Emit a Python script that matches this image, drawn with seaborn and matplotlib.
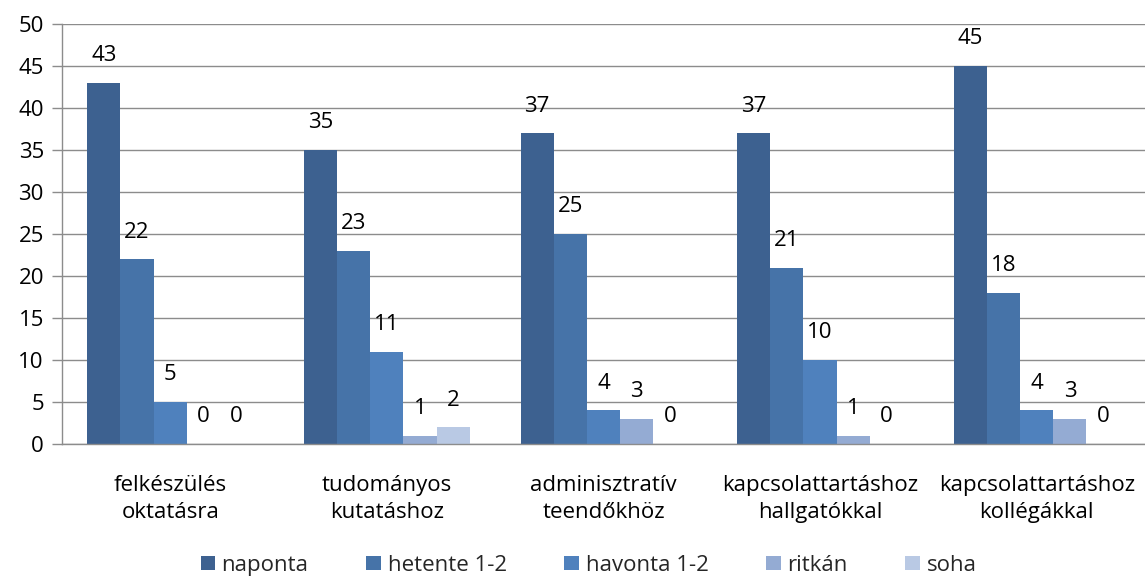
import pandas as pd
import matplotlib.pyplot as plt
import seaborn as sns

categories = ["felkészülés\noktatásra", "tudományos\nkutatáshoz", "adminisztratív\nteendőkhöz",
              "kapcsolattartáshoz\nhallgatókkal", "kapcsolattartáshoz\nkollégákkal"]
series = ["naponta", "hetente 1-2", "havonta 1-2", "ritkán", "soha"]
naponta = [43, 35, 37, 37, 45]
hetente = [22, 23, 25, 21, 18]
havonta = [5, 11, 4, 10, 4]
ritkan = [0, 1, 3, 1, 3]
soha = [0, 2, 0, 0, 0]
colors = ["#3d6190", "#4673a8", "#4f81bd", "#94abd3", "#b9c9e4"]

rows = []
for name, vals in zip(series, [naponta, hetente, havonta, ritkan, soha]):
    for cat, v in zip(categories, vals):
        rows.append({"kategoria": cat, "sorozat": name, "ertek": v})
df = pd.DataFrame(rows)

sns.set_style("white")
plt.rcParams["font.family"] = ["Open Sans", "DejaVu Sans"]
fs = 16

fig = plt.figure(figsize=(11.45, 5.78), dpi=100)
ax = fig.add_axes([0.0541, 0.2318, 0.9459, 0.7267])

sns.barplot(data=df, x="kategoria", y="ertek", hue="sorozat", order=categories,
            hue_order=series, palette=colors, width=0.766, saturation=1,
            edgecolor="none", ax=ax)

for cont in ax.containers:
    ax.bar_label(cont, padding=12, fontsize=fs, color="black")

ax.set_ylim(0, 50)
ax.set_xlim(-0.5, 4.5)
ax.set_yticks(range(0, 51, 5))
ax.yaxis.grid(True, color="#8c8c8c", linewidth=1)
ax.set_axisbelow(True)
ax.set_xlabel("")
ax.set_ylabel("")
ax.set_xticks(range(5))
ax.set_xticklabels(categories, fontsize=fs, linespacing=1.4, color="black")
ax.set_xticks([-0.5, 0.5, 1.5, 2.5, 3.5, 4.5], minor=True)
ax.tick_params(axis="x", which="major", length=0, pad=22)
ax.tick_params(axis="x", which="minor", length=7, color="#8c8c8c", width=1)
ax.tick_params(axis="y", length=7, color="#8c8c8c", width=1, labelsize=fs,
               labelcolor="black", left=True, pad=6)
for s in ["top", "right"]:
    ax.spines[s].set_visible(False)
for s in ["left", "bottom"]:
    ax.spines[s].set_color("#8c8c8c")
    ax.spines[s].set_linewidth(1)

handles, labels = ax.get_legend_handles_labels()
ax.get_legend().remove()
fig.legend(handles, labels, loc="center", bbox_to_anchor=(0.514, 0.022), ncol=5,
           frameon=False, fontsize=fs, handlelength=0.65, handleheight=0.65,
           handletextpad=0.3, columnspacing=2.6, borderpad=0)

fig.savefig("out.png", dpi=100)
